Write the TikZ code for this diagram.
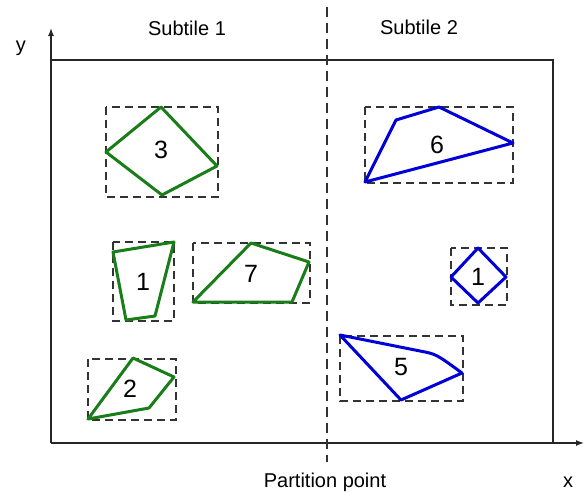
\documentclass[tikz,border=0pt]{standalone}
\usepackage{fontspec}
\setmainfont{Liberation Sans}
\usetikzlibrary{arrows.meta}
\definecolor{polygreen}{RGB}{25,125,25}
\definecolor{polyblue}{RGB}{0,0,215}
\begin{document}
\begin{tikzpicture}[x=1pt,y=-1pt,
  axisline/.style={line width=1.4pt,black!85},
  mbr/.style={line width=1.2pt,black!80,dash pattern=on 8pt off 5pt},
  partline/.style={line width=1.2pt,black!80,dash pattern=on 10pt off 6pt},
  gpoly/.style={line width=3pt,polygreen,line join=round},
  bpoly/.style={line width=3pt,polyblue,line join=round},
  lbl/.style={font=\fontsize{20}{24}\selectfont,anchor=base,inner sep=0pt},
  num/.style={font=\fontsize{25}{30}\selectfont,anchor=base,inner sep=0pt}]
\useasboundingbox (0,0) rectangle (588,493);
% axes and frame
\coordinate (O) at (51,443);
\coordinate (ytip) at (51,28);
\coordinate (xtip) at (584,443);
\coordinate (tl) at (51,60);
\coordinate (tr) at (553,60);
\coordinate (br) at (553,443);
\draw[axisline,-{Latex[length=8pt,width=6pt]}] (O) -- (ytip);
\draw[axisline,-{Latex[length=8pt,width=6pt]}] (O) -- (xtip);
\draw[axisline] (tl) -- (tr) -- (br);
% partition
\coordinate (pt) at (327,7);
\coordinate (pb) at (327,462);
\draw[partline] (pt) -- (pb);
% labels
\node[lbl] (ylab) at (21,51) {y};
\node[lbl] (xlab) at (568,487) {x};
\node[lbl] (st1) at (187,35) {Subtile 1};
\node[lbl] (st2) at (419,34) {Subtile 2};
\node[lbl] (pp) at (325,487) {Partition point};
% shape 3
\draw[mbr] (106,107) rectangle (218,197);
\coordinate (a1) at (161,107); \coordinate (a2) at (217,166);
\coordinate (a3) at (162,195); \coordinate (a4) at (106,152);
\draw[gpoly] (a1) -- (a2) -- (a3) -- (a4) -- cycle;
\node[num] (n3) at (161,158) {3};
% shape 6
\draw[mbr] (365,107) rectangle (513,183);
\coordinate (b1) at (365,182); \coordinate (b2) at (396,120);
\coordinate (b3) at (439,107); \coordinate (b4) at (513,143);
\draw[bpoly] (b1) -- (b2) -- (b3) -- (b4) -- cycle;
\node[num] (n6) at (437,153) {6};
% green 1
\draw[mbr] (113,242) rectangle (174,321);
\coordinate (c1) at (113,252); \coordinate (c2) at (174,242);
\coordinate (c3) at (155,316); \coordinate (c4) at (126,320);
\draw[gpoly] (c1) -- (c2) -- (c3) -- (c4) -- cycle;
\node[num] (n1g) at (143,290) {1};
% shape 7
\draw[mbr] (193,243) rectangle (310,303);
\coordinate (d1) at (193,302); \coordinate (d2) at (251,243);
\coordinate (d3) at (309,262); \coordinate (d4) at (292,302);
\draw[gpoly] (d1) -- (d2) -- (d3) -- (d4) -- cycle;
\node[num] (n7) at (251,282) {7};
% shape 2
\draw[mbr] (88,359) rectangle (176,420);
\coordinate (e1) at (133,358); \coordinate (e2) at (174,377);
\coordinate (e3) at (149,408); \coordinate (e4) at (88,419);
\draw[gpoly] (e1) -- (e2) -- (e3) -- (e4) -- cycle;
\node[num] (n2) at (130,397) {2};
% blue 1
\draw[mbr] (451,248) rectangle (507,305);
\coordinate (f1) at (478,248); \coordinate (f2) at (506,277);
\coordinate (f3) at (478,303); \coordinate (f4) at (451,277);
\draw[bpoly] (f1) -- (f2) -- (f3) -- (f4) -- cycle;
\node[num] (n1b) at (478,285) {1};
% shape 5
\draw[mbr] (340,336) rectangle (463,401);
\coordinate (g1) at (340,335); \coordinate (gm) at (420,351);
\coordinate (g2) at (462,373); \coordinate (g3) at (401,400);
\draw[bpoly] (g1) -- (gm) .. controls (436,354) .. (g2) -- (g3) -- cycle;
\node[num] (n5) at (401,375) {5};
\end{tikzpicture}
\end{document}
